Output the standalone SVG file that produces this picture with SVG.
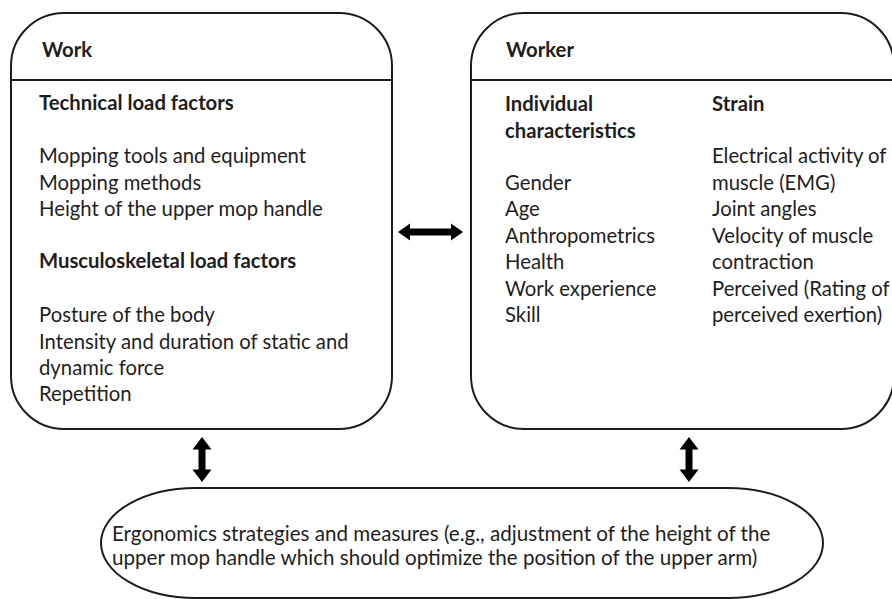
<svg xmlns="http://www.w3.org/2000/svg" width="892" height="599" viewBox="0 0 892 599">
  <style>
    .box { fill: #ffffff; stroke: #1c1c1c; stroke-width: 2; }
    .rule { stroke: #1c1c1c; stroke-width: 2; }
    .txt { font-family: Lato, "Open Sans", sans-serif; font-size: 20.3px; fill: #1e1e1e; }
    .hd { font-weight: 700; }
    .wide { font-size: 20.6px; }
    .arrow { fill: #000000; }
  </style>
  <rect width="892" height="599" fill="#ffffff"/>

  <!-- Work -->
  <g id="work">
    <rect class="box" x="11" y="13" width="381" height="416" rx="53" ry="53"/>
    <line class="rule" x1="11" y1="80" x2="392" y2="80"/>
    <text class="txt hd" x="42" y="57">Work</text>
    <text class="txt hd" x="39" y="110">Technical load factors</text>
    <text class="txt" x="39" y="163">Mopping tools and equipment</text>
    <text class="txt" x="39" y="189.5">Mopping methods</text>
    <text class="txt" x="39" y="216">Height of the upper mop handle</text>
    <text class="txt hd" x="39" y="268">Musculoskeletal load factors</text>
    <text class="txt" x="39" y="322">Posture of the body</text>
    <text class="txt" x="39" y="348.5">Intensity and duration of static and</text>
    <text class="txt" x="39" y="375">dynamic force</text>
    <text class="txt" x="39" y="401">Repetition</text>
  </g>

  <!-- Worker -->
  <g id="worker">
    <rect class="box" x="471" y="13" width="423" height="416" rx="53" ry="53"/>
    <line class="rule" x1="471" y1="80" x2="894" y2="80"/>
    <text class="txt hd" x="506" y="57">Worker</text>
    <text class="txt hd" x="505" y="111">Individual</text>
    <text class="txt hd" x="505" y="138">characteristics</text>
    <text class="txt" x="505" y="189.5">Gender</text>
    <text class="txt" x="505" y="216">Age</text>
    <text class="txt" x="505" y="242.5">Anthropometrics</text>
    <text class="txt" x="505" y="269">Health</text>
    <text class="txt" x="505" y="295.5">Work experience</text>
    <text class="txt" x="505" y="322">Skill</text>
    <text class="txt hd" x="712" y="111">Strain</text>
    <text class="txt" x="712" y="163">Electrical activity of</text>
    <text class="txt" x="712" y="189.5">muscle (EMG)</text>
    <text class="txt" x="712" y="216">Joint angles</text>
    <text class="txt" x="712" y="242.5">Velocity of muscle</text>
    <text class="txt" x="712" y="269">contraction</text>
    <text class="txt" x="712" y="295.5">Perceived (Rating of</text>
    <text class="txt" x="712" y="322">perceived exertion)</text>
  </g>

  <!-- Ergonomics strategies -->
  <g id="measures">
    <path class="box" d="M196 488 H728 A95 55 0 0 1 728 598 H196 A95 55 0 0 1 196 488 Z"/>
    <text class="txt wide" x="112" y="541">Ergonomics strategies and measures (e.g., adjustment of the height of the</text>
    <text class="txt wide" x="112" y="565">upper mop handle which should optimize the position of the upper arm)</text>
  </g>

  <defs>
    <!-- thick double-headed arrow, vertical, centred on the origin -->
    <path id="dbl" d="M0 -22.5 L9.5 -10 L3.5 -10 L3.5 10 L9.5 10 L0 22.5 L-9.5 10 L-3.5 10 L-3.5 -10 L-9.5 -10 Z"/>
    <!-- the same arrow laid horizontally -->
    <path id="dblh" d="M-32.5 0 L-20.5 -8.5 L-20.5 -3.4 L20.5 -3.4 L20.5 -8.5 L32.5 0 L20.5 8.5 L20.5 3.4 L-20.5 3.4 L-20.5 8.5 Z"/>
  </defs>

  <g id="connectors" class="arrow">
    <use href="#dblh" x="430.5" y="232"/>
    <use href="#dbl" x="202" y="459.5"/>
    <use href="#dbl" x="689" y="459.5"/>
  </g>
</svg>
